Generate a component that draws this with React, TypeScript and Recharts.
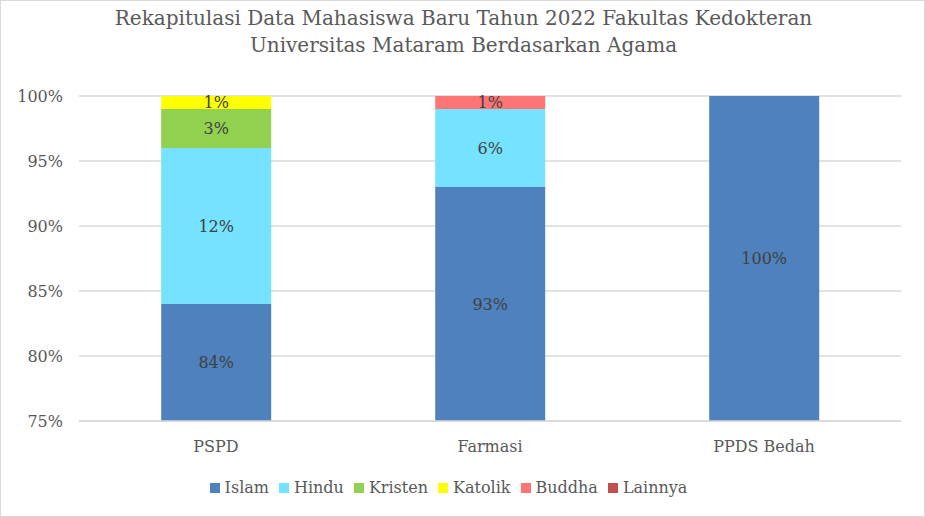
import { Bar, BarChart, CartesianGrid, LabelList, XAxis, YAxis } from "recharts";

const categories = ["PSPD", "Farmasi", "PPDS Bedah"];
const islam = [84, 93, 100];
const hindu = [12, 6, 0];
const kristen = [3, 0, 0];
const katolik = [1, 0, 0];
const buddha = [0, 1, 0];
const lainnya = [0, 0, 0];
const yTicks = [75, 80, 85, 90, 95, 100];

const seriesList = [
  { key: "Islam", values: islam, color: "#4F81BD" },
  { key: "Hindu", values: hindu, color: "#75E2FF" },
  { key: "Kristen", values: kristen, color: "#92D050" },
  { key: "Katolik", values: katolik, color: "#FFFF00" },
  { key: "Buddha", values: buddha, color: "#FF7575" },
  { key: "Lainnya", values: lainnya, color: "#C0504D" },
];

const rows = categories.map((name, i) => {
  const row: Record<string, string | number> = { name };
  seriesList.forEach((s) => (row[s.key] = s.values[i]));
  return row;
});

const W = 925;
const H = 517;
const xAxisHeight = 30;
const margin = { top: 96, right: 24, bottom: 66, left: 0 };
const plotTop = margin.top;
const plotBottom = H - margin.bottom - xAxisHeight;
const font = "'DejaVu Serif', serif";
const textColor = "#595959";
const tick = { fill: textColor, fontSize: 16, fontFamily: font };

function SegmentLabel(props: any) {
  const vb = props.viewBox || {};
  const x = props.x ?? vb.x;
  const y = props.y ?? vb.y;
  const width = props.width ?? vb.width;
  const height = props.height ?? vb.height;
  const value = props.value;
  if (!value) return null;
  const top = Math.max(Math.min(y, y + height), plotTop);
  const bottom = Math.min(Math.max(y, y + height), plotBottom);
  if (bottom <= top) return null;
  return (
    <text x={x + width / 2} y={(top + bottom) / 2} textAnchor="middle" dominantBaseline="central" fill="#404040" fontSize={16} fontFamily={font}>
      {value}%
    </text>
  );
}

function LegendRow() {
  return (
    <div style={{ position: "absolute", left: 0, top: 476, width: W - 30, display: "flex", justifyContent: "center", gap: 10, fontFamily: font, fontSize: 16, lineHeight: "22px", color: textColor }}>
      {seriesList.map((s) => (
        <div key={s.key} style={{ display: "flex", alignItems: "center", gap: 5 }}>
          <span style={{ width: 10, height: 10, background: s.color, display: "inline-block" }} />
          <span>{s.key}</span>
        </div>
      ))}
    </div>
  );
}

export default function App() {
  return (
    <div style={{ position: "absolute", left: 0, top: 0, width: W, height: H, background: "#fff", boxSizing: "border-box", border: "1.5px solid #D9D9D9" }}>
      <div style={{ position: "absolute", left: 0, top: 4, width: W, textAlign: "center", fontFamily: font, fontSize: 20, lineHeight: "27px", color: textColor }}>
        Rekapitulasi Data Mahasiswa Baru Tahun 2022 Fakultas Kedokteran
        <br />
        Universitas Mataram Berdasarkan Agama
      </div>
      <div style={{ position: "absolute", left: -1.5, top: -1.5 }}>
        <BarChart width={W} height={H} data={rows} margin={margin} barCategoryGap="30%">
          <CartesianGrid stroke="#D9D9D9" strokeWidth={1.5} vertical={false} />
          <XAxis dataKey="name" height={xAxisHeight} axisLine={{ stroke: "#D9D9D9", strokeWidth: 1.5 }} tickLine={false} tick={tick} tickMargin={14} />
          <YAxis
            type="number"
            domain={[75, 100]}
            ticks={yTicks}
            allowDataOverflow
            width={79}
            axisLine={false}
            tickLine={false}
            tickSize={8}
            tickMargin={8}
            tick={tick}
            tickFormatter={(v) => `${v}%`}
          />
          {seriesList.map((s) => (
            <Bar key={s.key} dataKey={s.key} stackId="a" fill={s.color} isAnimationActive={false}>
              <LabelList dataKey={s.key} content={(p: any) => <SegmentLabel {...p} />} />
            </Bar>
          ))}
        </BarChart>
      </div>
      <LegendRow />
    </div>
  );
}
